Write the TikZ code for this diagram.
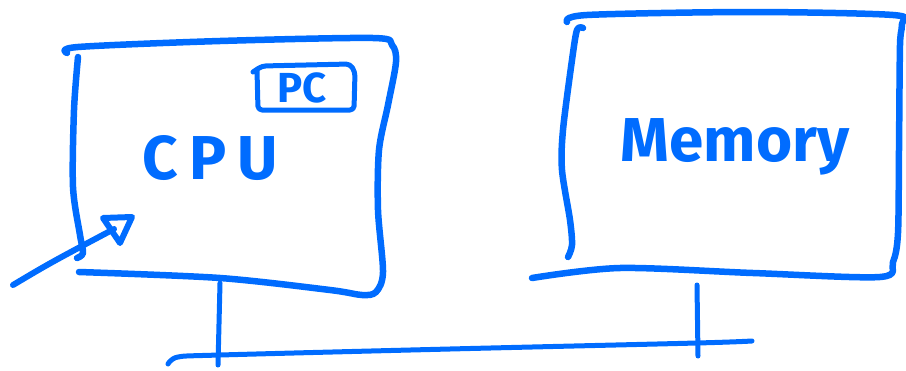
\documentclass[tikz,border=0pt]{standalone}
\usepackage{fontspec}
\setmainfont{Fira Sans}
\definecolor{ink}{RGB}{0,108,255}
\begin{document}
\begin{tikzpicture}[x=1pt,y=-1pt,
  inkline/.style={draw=ink, line width=6.5pt, line cap=round, line join=round},
  thinink/.style={draw=ink, line width=5pt, line cap=round, line join=round},
  lbl/.style={text=ink, inner sep=0pt, font=\bfseries}]
\useasboundingbox (0,0) rectangle (906,370);
% CPU box
\draw[inkline] plot[smooth, tension=0.5] coordinates {(67,53) (78,47) (220,41) (373,38) (392,45) (396,62) (388,105) (379,150) (378,210) (383,272) (376,292) (362,295) (330,290) (220,278) (79,272)};
\draw[inkline] plot[smooth, tension=0.5] coordinates {(78,57) (74,110) (73,187) (80,235) (83,253) (77,258)};
% PC box
\draw[thinink, rounded corners=4pt] (253,72) -- (262,66) -- (350,64) -- (355,72) -- (354,110) -- (258,110) -- (257,70);
\node[lbl, font=\bfseries\fontsize{42}{44}\selectfont] (pc) at (302,88) {PC};
\node[lbl, font=\bfseries\fontsize{62}{64}\selectfont\addfontfeature{LetterSpace=18}] (cpu) at (210,158) {CPU};
% input arrow
\coordinate (ain) at (13,285);
\coordinate (aend) at (114,229);
\draw[inkline, line width=6pt] (ain) .. controls (50,263) .. (aend);
\draw[inkline, line width=6pt] (103,218) -- (132,217) -- (120,243) -- cycle;
% Memory box
\draw[inkline] plot[smooth, tension=0.5] coordinates {(567,22) (587,15) (750,12) (893,15) (902,24) (900,45) (899,150) (898,233) (893,262) (880,277) (753,273) (620,268) (532,278)};
\draw[inkline] plot[smooth, tension=0.5] coordinates {(583,28) (577,30) (572,60) (563,130) (562,170) (570,220) (572,245) (568,257)};
\node[lbl, font=\bfseries\fontsize{62}{64}\selectfont, anchor=base] (mem) at (735,161) {Memory};
% bus
\coordinate (cpub) at (220,283);
\coordinate (memb) at (697,285);
\draw[thinink] plot[smooth, tension=0.5] coordinates {(168,364) (178,357) (220,355) (450,349) (697,343) (752,341)};
\draw[thinink] (cpub) -- (218,365);
\draw[thinink] (memb) -- (698,356);
\end{tikzpicture}
\end{document}
